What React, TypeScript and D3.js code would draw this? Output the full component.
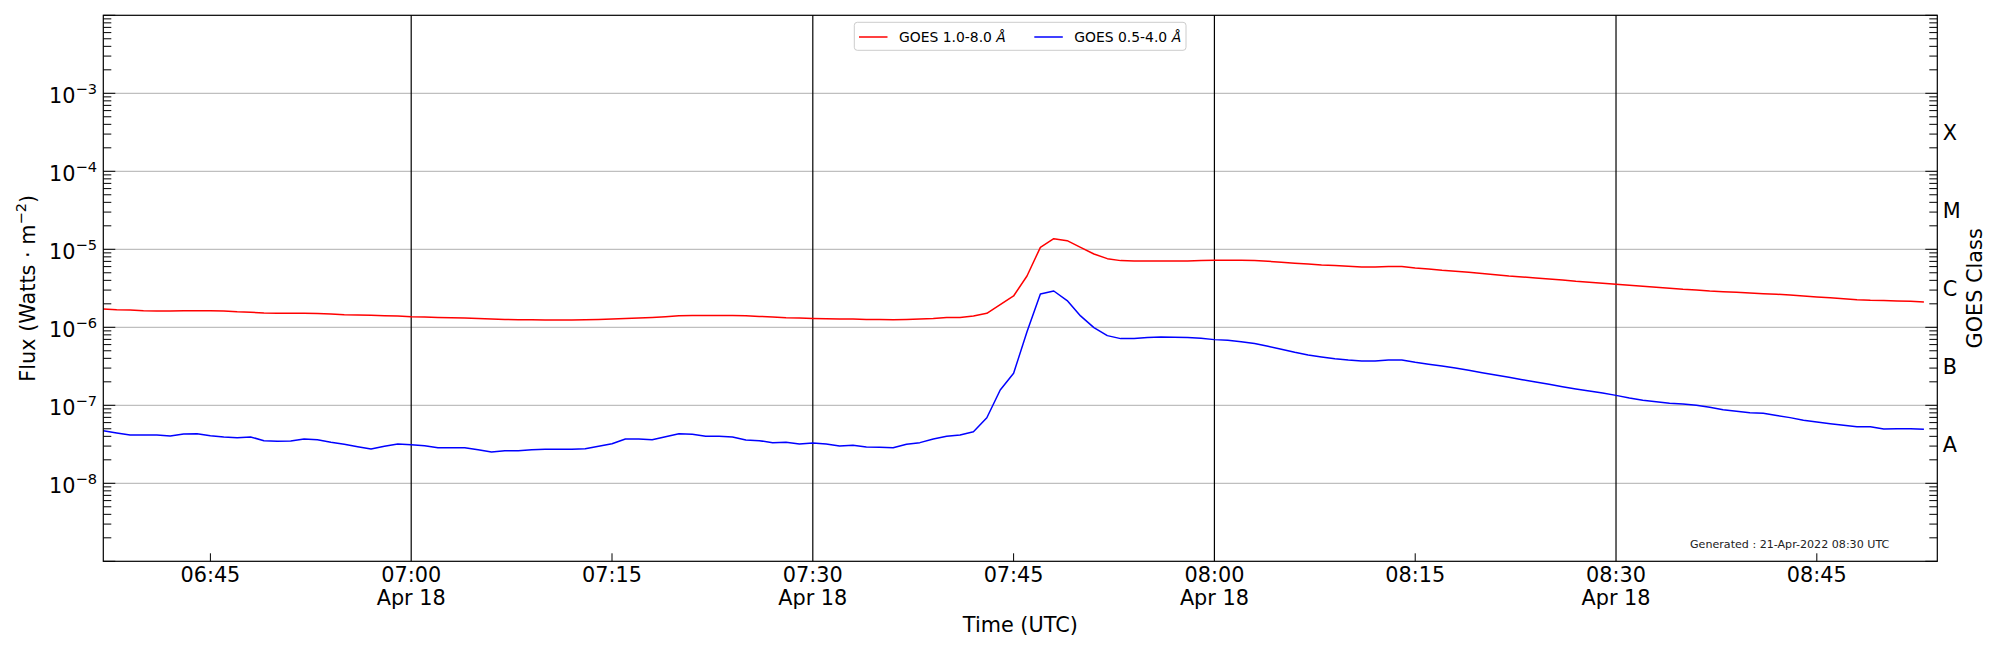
import { useEffect, useRef } from 'react';
import * as d3 from 'd3';

// one sample per minute, starting 06:37 UTC on 2022-04-18
const startTime = new Date(Date.UTC(2022, 3, 18, 6, 37));
const endTime = new Date(Date.UTC(2022, 3, 18, 8, 54));

// GOES 1.0-8.0 Å (W/m²)
const xrsLong = [
  1.72e-6, 1.68e-6, 1.67e-6, 1.63e-6, 1.62e-6, 1.62e-6, 1.63e-6, 1.63e-6, 1.63e-6, 1.62e-6,
  1.58e-6, 1.56e-6, 1.52e-6, 1.51e-6, 1.51e-6, 1.51e-6, 1.50e-6, 1.48e-6, 1.45e-6, 1.44e-6,
  1.43e-6, 1.41e-6, 1.40e-6, 1.37e-6, 1.36e-6, 1.34e-6, 1.33e-6, 1.32e-6, 1.30e-6, 1.28e-6,
  1.26e-6, 1.25e-6, 1.25e-6, 1.24e-6, 1.24e-6, 1.24e-6, 1.25e-6, 1.26e-6, 1.28e-6, 1.30e-6,
  1.32e-6, 1.34e-6, 1.37e-6, 1.41e-6, 1.42e-6, 1.42e-6, 1.42e-6, 1.42e-6, 1.41e-6, 1.38e-6,
  1.36e-6, 1.33e-6, 1.32e-6, 1.30e-6, 1.29e-6, 1.28e-6, 1.28e-6, 1.26e-6, 1.26e-6, 1.25e-6,
  1.26e-6, 1.28e-6, 1.30e-6, 1.34e-6, 1.34e-6, 1.40e-6, 1.51e-6, 1.95e-6, 2.52e-6, 4.55e-6,
  1.06e-5, 1.37e-5, 1.29e-5, 1.06e-5, 8.71e-6, 7.59e-6, 7.16e-6, 7.08e-6, 7.08e-6, 7.08e-6,
  7.08e-6, 7.08e-6, 7.16e-6, 7.23e-6, 7.23e-6, 7.23e-6, 7.16e-6, 7.02e-6, 6.81e-6, 6.62e-6,
  6.49e-6, 6.30e-6, 6.18e-6, 6.05e-6, 5.94e-6, 5.94e-6, 6.00e-6, 6.00e-6, 5.77e-6, 5.60e-6,
  5.38e-6, 5.22e-6, 5.07e-6, 4.88e-6, 4.73e-6, 4.55e-6, 4.42e-6, 4.29e-6, 4.17e-6, 4.05e-6,
  3.89e-6, 3.78e-6, 3.66e-6, 3.56e-6, 3.45e-6, 3.36e-6, 3.26e-6, 3.16e-6, 3.07e-6, 3.01e-6,
  2.92e-6, 2.86e-6, 2.81e-6, 2.75e-6, 2.70e-6, 2.65e-6, 2.60e-6, 2.52e-6, 2.45e-6, 2.40e-6,
  2.33e-6, 2.26e-6, 2.22e-6, 2.20e-6, 2.18e-6, 2.15e-6, 2.11e-6,
];

// GOES 0.5-4.0 Å (W/m²)
const xrsShort = [
  4.73e-8, 4.42e-8, 4.16e-8, 4.16e-8, 4.16e-8, 4.04e-8, 4.29e-8, 4.33e-8, 4.08e-8, 3.93e-8,
  3.85e-8, 3.93e-8, 3.52e-8, 3.45e-8, 3.48e-8, 3.70e-8, 3.62e-8, 3.35e-8, 3.16e-8, 2.95e-8,
  2.75e-8, 2.98e-8, 3.19e-8, 3.13e-8, 3.03e-8, 2.86e-8, 2.86e-8, 2.86e-8, 2.70e-8, 2.52e-8,
  2.62e-8, 2.62e-8, 2.70e-8, 2.73e-8, 2.73e-8, 2.73e-8, 2.78e-8, 2.98e-8, 3.22e-8, 3.70e-8,
  3.70e-8, 3.62e-8, 3.96e-8, 4.33e-8, 4.25e-8, 4.00e-8, 4.00e-8, 3.93e-8, 3.59e-8, 3.52e-8,
  3.32e-8, 3.35e-8, 3.19e-8, 3.29e-8, 3.19e-8, 3.01e-8, 3.07e-8, 2.92e-8, 2.89e-8, 2.86e-8,
  3.16e-8, 3.32e-8, 3.70e-8, 4.00e-8, 4.17e-8, 4.57e-8, 6.92e-8, 1.57e-7, 2.57e-7, 8.79e-7,
  2.67e-6, 2.92e-6, 2.20e-6, 1.40e-6, 9.91e-7, 7.82e-7, 7.16e-7, 7.16e-7, 7.38e-7, 7.52e-7,
  7.45e-7, 7.38e-7, 7.23e-7, 6.95e-7, 6.81e-7, 6.55e-7, 6.18e-7, 5.70e-7, 5.22e-7, 4.78e-7,
  4.42e-7, 4.17e-7, 3.96e-7, 3.81e-7, 3.70e-7, 3.70e-7, 3.81e-7, 3.81e-7, 3.56e-7, 3.36e-7,
  3.19e-7, 3.01e-7, 2.81e-7, 2.62e-7, 2.45e-7, 2.29e-7, 2.13e-7, 1.99e-7, 1.86e-7, 1.73e-7,
  1.62e-7, 1.53e-7, 1.44e-7, 1.34e-7, 1.24e-7, 1.16e-7, 1.11e-7, 1.06e-7, 1.04e-7, 1.00e-7,
  9.42e-8, 8.79e-8, 8.38e-8, 8.05e-8, 7.89e-8, 7.38e-8, 6.95e-8, 6.43e-8, 6.11e-8, 5.82e-8,
  5.55e-8, 5.32e-8, 5.32e-8, 4.98e-8, 5.02e-8, 5.02e-8, 4.92e-8,
];

const seriesNames = ['GOES 1.0-8.0 ', 'GOES 0.5-4.0 '];
const seriesColors = ['red', 'blue'];
const yLabelPowers = [-3, -4, -5, -6, -7, -8];
const classLabels = ['X', 'M', 'C', 'B', 'A'];
const classLevels = [3.16e-4, 3.16e-5, 3.16e-6, 3.16e-7, 3.16e-8];
const generatedNote = 'Generated : 21-Apr-2022 08:30 UTC';

const FONT = 'DejaVu Sans, sans-serif';
const W = 2000;
const H = 650;

const App = () => {
  const svgRef = useRef<SVGSVGElement | null>(null);

  useEffect(() => {
    if (!svgRef.current) return;
    const svg = d3.select(svgRef.current);
    svg.selectAll('*').remove();

    const left = 103.3, right = 1937.3, top = 15.3, bottom = 561.3;

    const x = d3.scaleUtc().domain([startTime, endTime]).range([left, right]);
    const y = d3.scaleLog().domain([1e-9, 1e-2]).range([bottom, top]);

    const times = xrsLong.map((_, i) => d3.utcMinute.offset(startTime, i));

    // horizontal grid at the decades
    svg.append('g')
      .selectAll('line')
      .data(yLabelPowers)
      .join('line')
      .attr('x1', left).attr('x2', right)
      .attr('y1', (p) => y(10 ** p)).attr('y2', (p) => y(10 ** p))
      .attr('stroke', '#b0b0b0').attr('stroke-width', 1);

    // x ticks: majors every 30 min get a full black line, minors every 15
    const quarterTicks = x.ticks(d3.utcMinute.every(15) as d3.TimeInterval);
    const isMajor = (d: Date) => d.getUTCMinutes() % 30 === 0;
    const majors = quarterTicks.filter(isMajor);
    const minors = quarterTicks.filter((d) => !isMajor(d));

    svg.append('g')
      .selectAll('line')
      .data(majors)
      .join('line')
      .attr('x1', (d) => x(d)).attr('x2', (d) => x(d))
      .attr('y1', top).attr('y2', bottom)
      .attr('stroke', 'black').attr('stroke-width', 1.2);

    // data
    const line = d3.line<number>()
      .x((_, i) => x(times[i]))
      .y((d) => y(d));

    [xrsLong, xrsShort].forEach((s, k) => {
      svg.append('path')
        .datum(s)
        .attr('fill', 'none')
        .attr('stroke', seriesColors[k])
        .attr('stroke-width', 1.5)
        .attr('stroke-linejoin', 'round')
        .attr('d', line);
    });

    // frame
    svg.append('rect')
      .attr('x', left).attr('y', top)
      .attr('width', right - left).attr('height', bottom - top)
      .attr('fill', 'none').attr('stroke', 'black').attr('stroke-width', 1.2);

    // x minor ticks + labels
    svg.append('g')
      .selectAll('line')
      .data(minors)
      .join('line')
      .attr('x1', (d) => x(d)).attr('x2', (d) => x(d))
      .attr('y1', bottom).attr('y2', bottom - 8)
      .attr('stroke', 'black').attr('stroke-width', 1);

    const fmtTime = d3.utcFormat('%H:%M');
    const fmtDay = d3.utcFormat('%b %d');
    const xLabels = svg.append('g')
      .attr('font-family', FONT).attr('font-size', 20.8).attr('text-anchor', 'middle');
    quarterTicks.forEach((d) => {
      xLabels.append('text').attr('x', x(d)).attr('y', 582).text(fmtTime(d));
      if (isMajor(d)) xLabels.append('text').attr('x', x(d)).attr('y', 604.5).text(fmtDay(d));
    });

    // y ticks, both sides, pointing in
    const yTicks = y.ticks();
    const isDecade = (v: number) => Math.abs(Math.log10(v) - Math.round(Math.log10(v))) < 1e-6;
    const tickG = svg.append('g').attr('stroke', 'black').attr('stroke-width', 1);
    yTicks.forEach((v) => {
      const len = isDecade(v) ? 12 : 8;
      const yy = y(v);
      if (yy < top - 0.5 || yy > bottom + 0.5) return;
      tickG.append('line').attr('x1', left).attr('x2', left + len).attr('y1', yy).attr('y2', yy);
      tickG.append('line').attr('x1', right).attr('x2', right - len).attr('y1', yy).attr('y2', yy);
    });

    const yLab = svg.append('g').attr('font-family', FONT).attr('text-anchor', 'end');
    yLabelPowers.forEach((p) => {
      const t = yLab.append('text').attr('x', 97).attr('y', y(10 ** p) + 10).attr('font-size', 20.8);
      t.append('tspan').text('10');
      t.append('tspan').attr('dy', -9).attr('font-size', 14.6).text('\u2212' + Math.abs(p));
    });

    // GOES class letters on the right
    svg.append('g')
      .attr('font-family', FONT).attr('font-size', 20.8)
      .selectAll('text')
      .data(classLabels)
      .join('text')
      .attr('x', 1942.7)
      .attr('y', (_, i) => y(classLevels[i]) + 7.5)
      .text((d) => d);

    // axis titles
    const midY = (top + bottom) / 2;
    const yTitle = svg.append('text')
      .attr('transform', `translate(35,${midY}) rotate(-90)`)
      .attr('text-anchor', 'middle')
      .attr('font-family', FONT).attr('font-size', 20.8);
    yTitle.append('tspan').text('Flux (Watts \u00b7 m');
    yTitle.append('tspan').attr('dy', -9).attr('font-size', 14.6).text('\u22122');
    yTitle.append('tspan').attr('dy', 9).text(')');

    svg.append('text')
      .attr('transform', `translate(1981.5,${midY}) rotate(-90)`)
      .attr('text-anchor', 'middle')
      .attr('font-family', FONT).attr('font-size', 20.8)
      .text('GOES Class');

    svg.append('text')
      .attr('x', (left + right) / 2).attr('y', 631.5)
      .attr('text-anchor', 'middle')
      .attr('font-family', FONT).attr('font-size', 20.8)
      .text('Time (UTC)');

    svg.append('text')
      .attr('x', 1690).attr('y', 548.3)
      .attr('font-family', FONT).attr('font-size', 11.1).attr('fill', '#222')
      .text(generatedNote);

    // legend
    const lg = svg.append('g').attr('font-family', FONT).attr('font-size', 13.9);
    lg.append('rect')
      .attr('x', 854.3).attr('y', 22.3).attr('width', 331.7).attr('height', 28)
      .attr('rx', 3).attr('fill', 'white').attr('fill-opacity', 0.8)
      .attr('stroke', '#cccccc').attr('stroke-width', 1);
    const legendX = [859, 1034.3];
    seriesNames.forEach((name, k) => {
      lg.append('line')
        .attr('x1', legendX[k]).attr('x2', legendX[k] + 28.5)
        .attr('y1', 37).attr('y2', 37)
        .attr('stroke', seriesColors[k]).attr('stroke-width', 1.5);
      const t = lg.append('text').attr('x', legendX[k] + 40).attr('y', 42.3);
      t.append('tspan').text(name);
      t.append('tspan').attr('font-style', 'italic').text('\u00c5');
    });
  }, []);

  return (
    <svg
      ref={svgRef}
      width={W}
      height={H}
      style={{ position: 'absolute', left: 0, top: 0, background: 'white' }}
    />
  );
};

export default App;
